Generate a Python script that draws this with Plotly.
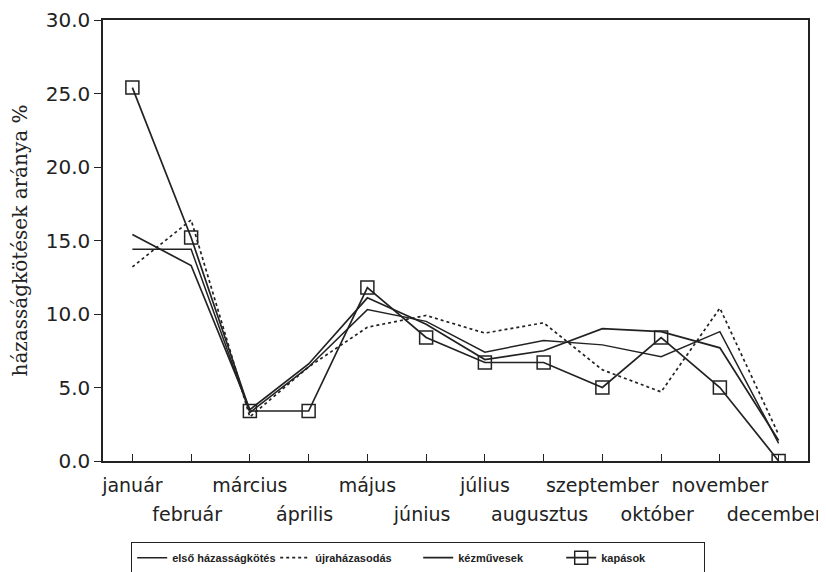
import plotly.graph_objects as go

months = ["január", "február", "március", "április", "május", "június",
          "július", "augusztus", "szeptember", "október", "november", "december"]
y_ticks = [0, 5, 10, 15, 20, 25, 30]

elso = [14.4, 14.4, 3.3, 6.4, 10.3, 9.5, 7.4, 8.2, 7.9, 7.1, 8.8, 1.2]
ujra = [13.2, 16.4, 3.0, 6.4, 9.1, 9.9, 8.7, 9.4, 6.2, 4.7, 10.4, 1.8]
kezmu = [15.4, 13.3, 3.5, 6.6, 11.1, 9.3, 6.9, 7.5, 9.0, 8.8, 7.7, 1.4]
kapas = [25.4, 15.2, 3.4, 3.4, 11.8, 8.4, 6.7, 6.7, 5.0, 8.4, 5.0, 0.0]

names = ["első házasságkötés", "újraházasodás", "kézművesek", "kapások"]

x_idx = list(range(len(months)))
top_text = [m if i % 2 == 0 else "" for i, m in enumerate(months)]
odd_idx = [i for i in x_idx if i % 2 == 1]
odd_text = [months[i] for i in odd_idx]

ink = "#222222"
fig = go.Figure()
fig.add_trace(go.Scatter(x=x_idx, y=elso, name=names[0], mode="lines",
                         line=dict(color=ink, width=1.5)))
fig.add_trace(go.Scatter(x=x_idx, y=ujra, name=names[1], mode="lines",
                         line=dict(color=ink, width=1.7, dash="dot")))
fig.add_trace(go.Scatter(x=x_idx, y=kezmu, name=names[2], mode="lines",
                         line=dict(color=ink, width=1.7)))
fig.add_trace(go.Scatter(x=x_idx, y=kapas, name=names[3], mode="lines+markers",
                         line=dict(color=ink, width=1.7),
                         marker=dict(symbol="square-open", size=13,
                                     color=ink, line=dict(width=1.5, color=ink))))
# invisible helper trace so the second label row axis is drawn
fig.add_trace(go.Scatter(x=[x_idx[0]], y=[None], xaxis="x2", mode="lines",
                         showlegend=False, hoverinfo="skip"))

fig.update_layout(
    width=818, height=564,
    margin=dict(l=95, r=18, t=12, b=111, autoexpand=False),
    paper_bgcolor="white", plot_bgcolor="white",
    font=dict(family="DejaVu Sans", color="#222222", size=20),
    showlegend=True,
    legend=dict(orientation="h", x=0.04, xanchor="left", y=-0.184, yanchor="top",
                bordercolor="#222222", borderwidth=1,
                font=dict(family="Liberation Sans", size=11, weight="bold"),
                entrywidth=98, itemwidth=30, tracegroupgap=0),
    xaxis=dict(
        range=[-0.5, 11.5], tickmode="array", tickvals=x_idx, ticktext=top_text,
        showline=True, linecolor=ink, linewidth=1.5, mirror=True,
        ticks="inside", ticklen=7, tickcolor=ink, tickwidth=1.2,
        showgrid=False, zeroline=False, tickangle=0, ticklabelstandoff=6,
        tickfont=dict(family="DejaVu Sans", size=19, color="#222222"),
    ),
    xaxis2=dict(
        range=[-0.5, 11.5], overlaying="x", side="bottom", anchor="y",
        tickmode="array", tickvals=odd_idx, ticktext=odd_text,
        showline=False, ticks="", showgrid=False, zeroline=False, tickangle=0,
        ticklabelstandoff=40, ticklabelshift=-4,
        tickfont=dict(family="DejaVu Sans", size=19, color="#222222"),
    ),
    yaxis=dict(
        range=[0, 30], tickmode="array", tickvals=y_ticks,
        ticktext=[f"{v:.1f}" for v in y_ticks],
        showline=True, linecolor=ink, linewidth=1.5, mirror=True,
        ticks="outside", ticklen=7, tickcolor=ink, tickwidth=1.2,
        showgrid=False, zeroline=False,
        tickfont=dict(family="DejaVu Sans", size=20, color="#222222"),
        title=dict(text="házasságkötések aránya %",
                   font=dict(family="DejaVu Serif", size=20, color="#222222"),
                   standoff=14),
    ),
)

fig.write_html("out.html")
